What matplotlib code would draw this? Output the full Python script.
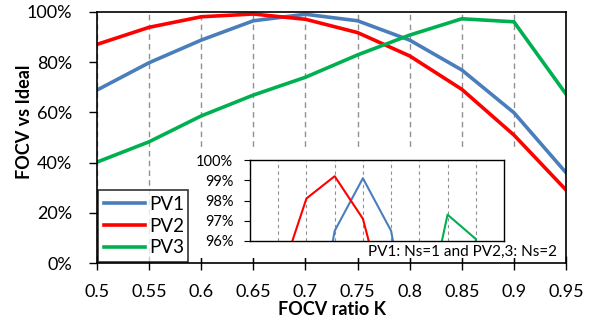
import matplotlib
matplotlib.use('Agg')
import matplotlib.pyplot as plt
from matplotlib.patches import Rectangle
from matplotlib.ticker import FuncFormatter

# FOCV ratio K
K = [0.5, 0.55, 0.6, 0.65, 0.7, 0.75, 0.8, 0.85, 0.9, 0.95]
# FOCV vs Ideal (%)
pv1 = [68.9, 79.8, 88.8, 96.5, 99.1, 96.5, 88.8, 76.9, 59.9, 36.0]
pv2 = [87.1, 93.9, 98.1, 99.2, 97.1, 91.8, 82.5, 69.2, 51.0, 29.1]
pv3 = [40.2, 48.3, 58.6, 66.9, 74.0, 82.9, 90.8, 97.3, 96.1, 67.3]

names = ['PV1', 'PV2', 'PV3']
colors = ['#4a7ebb', '#ff0000', '#00b050']
note = 'PV1: Ns=1 and PV2,3: Ns=2'

plt.rcParams['font.family'] = ['Lato', 'DejaVu Sans']

fig = plt.figure(figsize=(6.02, 3.28), dpi=100)
ax = fig.add_axes([97/602, 1-263/328, 469/602, 251/328])

for y, c, n in zip([pv1, pv2, pv3], colors, names):
    ax.plot(K, y, color=c, lw=2.6, label=n, solid_joinstyle='miter')

ax.set_xlim(0.5, 0.95)
ax.set_ylim(0, 100)
ax.set_xticks(K)
ax.set_xticklabels([f'{k:g}' for k in K])
ax.set_yticks(range(0, 101, 20))
ax.yaxis.set_major_formatter(FuncFormatter(lambda v, p: f'{v:.0f}%'))
ax.tick_params(axis='x', direction='inout', length=10, width=1, labelsize=13, pad=10)
ax.tick_params(axis='y', direction='out', length=6, width=1, labelsize=13, pad=12)
ax.xaxis.grid(True, ls=(0, (4, 3)), color='#909090', lw=1)
for s in ax.spines.values():
    s.set_linewidth(1.2)
ax.set_xlabel('FOCV ratio K', fontsize=13, fontweight='bold', labelpad=1)
ax.set_ylabel('FOCV vs Ideal', fontsize=13, fontweight='bold')
ax.yaxis.set_label_coords((33 - 97) / 469, (263 - 122) / 251)

leg = ax.legend(loc='lower left', bbox_to_anchor=(98/602, 1-262/328, 90/602, 78/328),
                bbox_transform=fig.transFigure, mode='expand', fontsize=13.5,
                frameon=True, fancybox=False, edgecolor='black', handlelength=2.2,
                handletextpad=0.25, borderpad=0.3, labelspacing=0.25, borderaxespad=0)
leg.get_frame().set_linewidth(1.2)
leg.set_zorder(6)

# white background of the inset chart
fig.patches.append(Rectangle((190/602, 1-258/328), 330/602, 108/328,
                             transform=fig.transFigure, facecolor='white',
                             edgecolor='none', zorder=4))

ins = fig.add_axes([250/602, 1-241/328, 254/602, 81/328], zorder=5)
for y, c in zip([pv1, pv2, pv3], colors):
    ins.plot(K, y, color=c, lw=1.5)
ins.set_xlim(0.5, 0.95)
ins.set_ylim(96, 100)
ins.set_xticks(K[1:-1])
ins.set_xticklabels([])
ins.tick_params(axis='x', length=0)
ins.set_yticks([96, 97, 98, 99, 100])
ins.yaxis.set_major_formatter(FuncFormatter(lambda v, p: f'{v:.0f}%'))
ins.tick_params(axis='y', direction='out', length=4, labelsize=10.5, pad=8)
ins.xaxis.grid(True, ls=(0, (3, 3)), color='#909090', lw=0.8)
for s in ins.spines.values():
    s.set_linewidth(1.0)

fig.text(557/602, 1-252/328, note, ha='right', va='center', fontsize=11, zorder=7)

fig.savefig('out.png', dpi=100)
